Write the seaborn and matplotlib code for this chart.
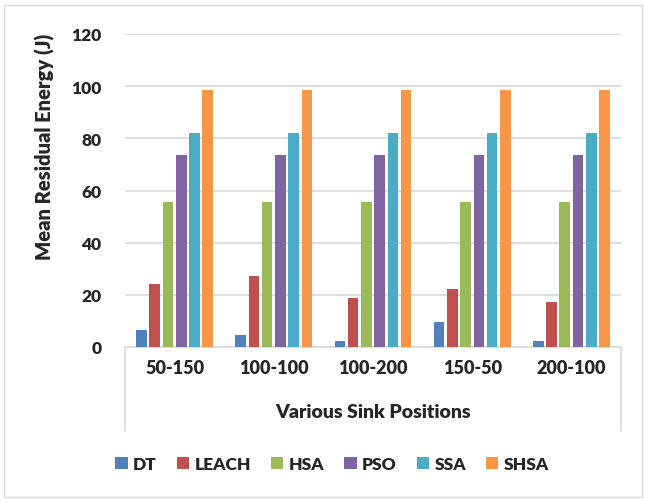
import matplotlib
matplotlib.use("Agg")
import matplotlib.pyplot as plt
import seaborn as sns
import pandas as pd
from matplotlib.patches import Rectangle
from matplotlib.lines import Line2D

positions = ["50-150", "100-100", "100-200", "150-50", "200-100"]
methods = ["DT", "LEACH", "HSA", "PSO", "SSA", "SHSA"]
DT = [6.5, 4.7, 2.3, 9.7, 2.3]
LEACH = [24.1, 27.3, 18.8, 22.3, 17.4]
HSA = [55.7, 55.7, 55.7, 55.7, 55.7]
PSO = [73.6, 73.6, 73.6, 73.6, 73.6]
SSA = [82.2, 82.2, 82.2, 82.2, 82.2]
SHSA = [98.7, 98.7, 98.7, 98.7, 98.7]
colors = ["#4F81BD", "#C0504D", "#9BBB59", "#8064A2", "#4BACC6", "#F79646"]
yticks = [0, 20, 40, 60, 80, 100, 120]

series = {"DT": DT, "LEACH": LEACH, "HSA": HSA, "PSO": PSO, "SSA": SSA, "SHSA": SHSA}
rows = []
for m in methods:
    for p, v in zip(positions, series[m]):
        rows.append({"position": p, "method": m, "energy": v})
df = pd.DataFrame(rows)

sns.set_style("white")
plt.rcParams["font.family"] = ["Lato", "DejaVu Sans"]
WT = "heavy"
plt.rcParams["font.weight"] = WT

W, H = 645, 502
fig = plt.figure(figsize=(W / 100, H / 100), dpi=100)
ax = fig.add_axes([125 / W, (H - 348) / H, 496 / W, 313 / H])

sns.barplot(data=df, x="position", y="energy", hue="method", order=positions,
            hue_order=methods, palette=colors, width=0.8, gap=0.2,
            saturation=1, ax=ax, legend=True, edgecolor="none", zorder=3)

grid_c = "#D9D9D9"
ax.set_ylim(0, 120)
ax.set_yticks(yticks)
ax.set_yticklabels([str(t) for t in yticks], fontsize=12.5, fontweight=WT)
ax.set_xticks(range(len(positions)))
ax.set_xticklabels(positions, fontsize=13, fontweight=WT)
ax.tick_params(axis="y", length=0, pad=17)
ax.tick_params(axis="x", length=0, pad=9)
ax.set_xlabel("")
ax.set_ylabel("")
for s in ["top", "right", "left"]:
    ax.spines[s].set_visible(False)
ax.spines["bottom"].set_color(grid_c)
ax.spines["bottom"].set_linewidth(1.2)
ax.yaxis.grid(True, color=grid_c, linewidth=1.2, zorder=0)
ax.set_axisbelow(True)

# category box side lines
for xf in [0, 1]:
    ax.add_line(Line2D([xf, xf], [0, -84 / 313], transform=ax.transAxes,
                       color=grid_c, linewidth=1.2, clip_on=False))

fig.text(373 / W, 1 - 412 / H, "Various Sink Positions", ha="center", va="center",
         fontsize=14, fontweight=WT)
fig.text(45 / W, 1 - 147 / H, "Mean Residual Energy (J)", ha="center", va="center",
         rotation=90, fontsize=14.5, fontweight=WT)

handles, labels = ax.get_legend_handles_labels()
ax.get_legend().remove()
fig.legend(handles, labels, ncol=6, loc="center", bbox_to_anchor=(332 / W, 1 - 465 / H),
           frameon=False, prop={"weight": WT, "size": 12.5},
           handlelength=0.72, handleheight=0.72, handletextpad=0.3, columnspacing=1.15)

fig.patches.append(Rectangle((4 / W, 4 / H), 638 / W, 492 / H, transform=fig.transFigure,
                             fill=False, edgecolor=grid_c, linewidth=1))

fig.savefig("out.png", dpi=100)
